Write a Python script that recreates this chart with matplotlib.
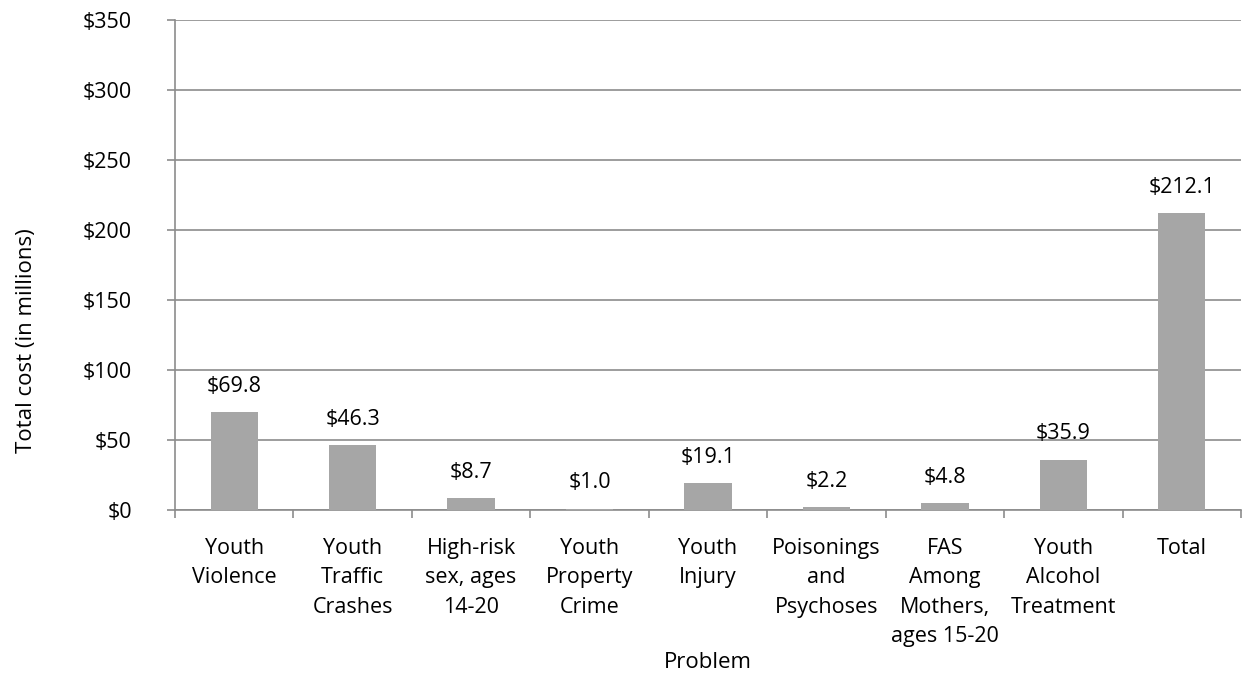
import matplotlib
matplotlib.use("Agg")
import matplotlib.pyplot as plt
import numpy as np

categories = ["Youth\nViolence", "Youth\nTraffic\nCrashes", "High-risk\nsex, ages\n14-20",
              "Youth\nProperty\nCrime", "Youth\nInjury", "Poisonings\nand\nPsychoses",
              "FAS\nAmong\nMothers,\nages 15-20", "Youth\nAlcohol\nTreatment", "Total"]
values = [69.8, 46.3, 8.7, 1.0, 19.1, 2.2, 4.8, 35.9, 212.1]
yticks = [0, 50, 100, 150, 200, 250, 300, 350]

plt.rcParams['font.family'] = ['Open Sans', 'DejaVu Sans']
fig = plt.figure(figsize=(12.43, 6.81), dpi=100)
W, H = 1243, 681
left, right, top, bottom = 175, 1241, 20, 510
ax = fig.add_axes([left / W, 1 - bottom / H, (right - left) / W, (bottom - top) / H])

FS = 15.5
x = np.arange(len(categories))
ax.bar(x, values, width=0.4, color="#a6a6a6", zorder=3)
for xi, v in zip(x, values):
    ax.annotate(f"${v:.1f}", (xi, v), xytext=(0, 11), textcoords="offset points",
                ha="center", va="bottom", fontsize=FS, color="#000000")

ax.set_xlim(-0.5, len(categories) - 0.5)
ax.set_ylim(0, 350)
ax.set_yticks(yticks)
ax.set_yticklabels([f"${t}" for t in yticks], fontsize=FS)
ax.yaxis.grid(True, color="#8c8c8c", linewidth=1.2, zorder=0)
ax.set_axisbelow(True)

ax.set_xticks(np.arange(-0.5, len(categories), 1.0))
ax.set_xticklabels([])
ax.set_xticks(x, minor=True)
ax.set_xticklabels(categories, minor=True, fontsize=FS, linespacing=1.53, va="top")
ax.tick_params(axis="x", which="minor", length=0, pad=20)
ax.tick_params(axis="x", which="major", length=6, color="#8c8c8c", width=1.2)
ax.tick_params(axis="y", length=6, color="#8c8c8c", width=1.2, pad=25)

for s in ["top", "right"]:
    ax.spines[s].set_visible(False)
for s in ["left", "bottom"]:
    ax.spines[s].set_color("#8c8c8c")
    ax.spines[s].set_linewidth(1.2)

ax.set_ylabel("Total cost (in millions)", fontsize=16)
ax.yaxis.set_label_coords(27 / W, 0.5, transform=fig.transFigure)
ax.set_xlabel("Problem", fontsize=16)
ax.xaxis.set_label_coords(0.5 * (left + right) / W, 1 - 662 / H, transform=fig.transFigure)
ax.xaxis.label.set_va("center")
ax.yaxis.label.set_va("center")

fig.savefig("out.png", dpi=100)
